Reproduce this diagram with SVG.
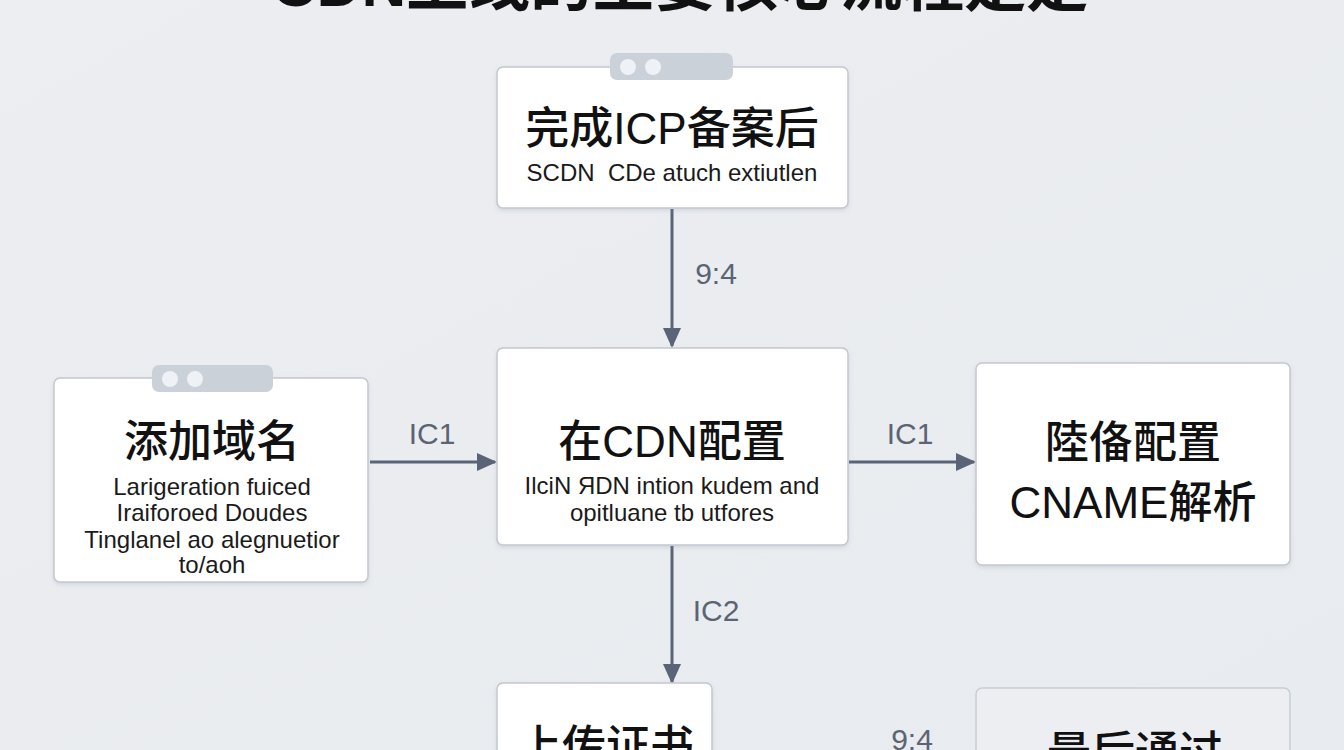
<svg xmlns="http://www.w3.org/2000/svg" width="1344" height="750" viewBox="0 0 1344 750">
<defs>
<linearGradient id="bg" x1="0" y1="0" x2="1" y2="1">
<stop offset="0" stop-color="#eceef1"/>
<stop offset="1" stop-color="#e8ebef"/>
</linearGradient>
<filter id="sh" x="-10%" y="-10%" width="120%" height="130%">
<feDropShadow dx="0" dy="2" stdDeviation="2" flood-color="#8a93a0" flood-opacity="0.25"/>
</filter>
<marker id="ah" markerWidth="20" markerHeight="20" refX="18" refY="10" orient="auto" markerUnits="userSpaceOnUse">
<path d="M0,1 L20,10 L0,19 Z" fill="#5a6476"/>
</marker>
<style>
.box{fill:#ffffff;stroke:#c3c8d0;stroke-width:1.5;filter:url(#sh)}
.boxg{fill:#eceef1;stroke:#c9cdd4;stroke-width:1.5}
.tab{fill:#cbd1d9}
.dot{fill:#eef1f5}
.h{font-family:"Liberation Sans","Noto Sans CJK SC",sans-serif;font-size:44px;font-weight:500;fill:#111;text-anchor:middle}
.s{font-family:"Liberation Sans","Noto Sans CJK SC",sans-serif;font-size:24px;fill:#1a1a1a;text-anchor:middle}
.lbl{font-family:"Liberation Sans","Noto Sans CJK SC",sans-serif;font-size:30px;fill:#5b6472;text-anchor:middle}
.ttl{font-family:"Liberation Sans","Noto Sans CJK SC",sans-serif;font-size:62px;font-weight:bold;fill:#111;text-anchor:middle}
.ln{stroke:#5a6476;stroke-width:3;fill:none;marker-end:url(#ah)}
</style>
</defs>
<rect width="1344" height="750" fill="url(#bg)"/>
<text class="ttl" x="680" y="6">CDN上线的主要核心流程是是</text>

<g id="connectors">
<line class="ln" x1="672" y1="209" x2="672" y2="346"/>
<line class="ln" x1="370" y1="462" x2="495" y2="462"/>
<line class="ln" x1="849" y1="462" x2="974" y2="462"/>
<line class="ln" x1="672" y1="546" x2="672" y2="682"/>
<text class="lbl" x="716" y="284">9:4</text>
<text class="lbl" x="432" y="444">IC1</text>
<text class="lbl" x="910" y="444">IC1</text>
<text class="lbl" x="716" y="621">IC2</text>
<text class="lbl" x="912" y="750">9:4</text>
</g>

<g id="node-icp">
<rect class="box" x="497" y="67" width="351" height="141" rx="6"/>
<rect class="tab" x="610" y="53" width="123" height="27" rx="7"/>
<circle class="dot" cx="628" cy="67" r="8"/>
<circle class="dot" cx="653" cy="67" r="8"/>
<text class="h" x="672" y="144">完成ICP备案后</text>
<text class="s" x="672" y="181" xml:space="preserve">SCDN  CDe atuch extiutlen</text>
</g>

<g id="node-domain">
<rect class="box" x="54" y="378" width="314" height="204" rx="6"/>
<rect class="tab" x="152" y="365" width="121" height="27" rx="7"/>
<circle class="dot" cx="170" cy="379" r="8"/>
<circle class="dot" cx="195" cy="379" r="8"/>
<text class="h" x="212" y="457">添加域名</text>
<text class="s" x="212" y="495">Larigeration fuiced</text>
<text class="s" x="212" y="521">Iraiforoed Doudes</text>
<text class="s" x="212" y="548">Tinglanel ao alegnuetior</text>
<text class="s" x="212" y="573">to/aoh</text>
</g>

<g id="node-cdn">
<rect class="box" x="497" y="348" width="351" height="197" rx="6"/>
<text class="h" x="672" y="457">在CDN配置</text>
<text class="s" x="672" y="494">IlciN ЯDN intion kudem and</text>
<text class="s" x="672" y="521">opitluane tb utfores</text>
</g>

<g id="node-cname">
<rect class="box" x="976" y="363" width="314" height="202" rx="6"/>
<text class="h" x="1133" y="458">陸俻配置</text>
<text class="h" x="1133" y="518">CNAME解析</text>
</g>

<g id="node-cert">
<rect class="box" x="497" y="683" width="215" height="100" rx="6"/>
<text class="h" x="606" y="762">上传证书</text>
</g>

<g id="node-final">
<rect class="boxg" x="976" y="688" width="314" height="100" rx="6"/>
<text class="h" x="1135" y="768">最后通过</text>
</g>
</svg>
